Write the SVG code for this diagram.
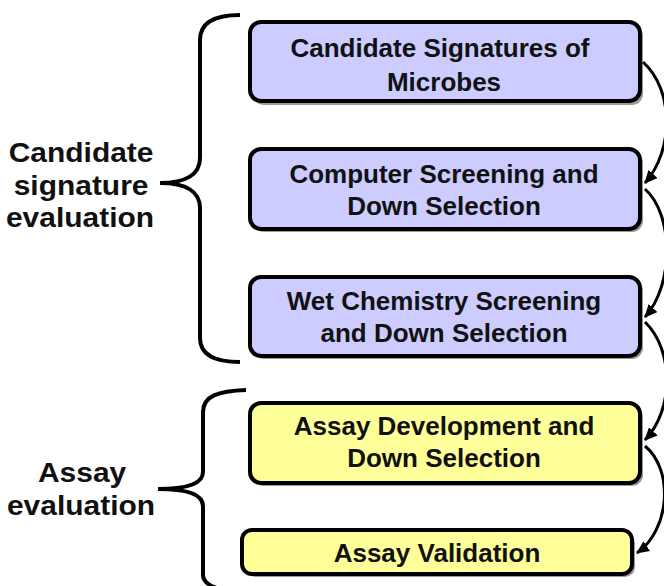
<svg xmlns="http://www.w3.org/2000/svg" width="664" height="586" viewBox="0 0 664 586">
  <defs>
    <marker id="arrow" markerWidth="14" markerHeight="12" refX="12" refY="6" orient="auto" markerUnits="userSpaceOnUse">
      <path d="M0,0 L13,6 L0,12 Z" fill="#000"/>
    </marker>
  </defs>
  <style>
    .shadow { fill: #9a9a9a; }
    .box { stroke: #000; stroke-width: 4; }
    .purple { fill: #ccccff; }
    .yellow { fill: #ffff99; }
    .label { font-family: "Liberation Sans", Arial, sans-serif; font-weight: bold; font-size: 26px; fill: #111; text-anchor: middle; }
    .side { font-family: "Liberation Sans", Arial, sans-serif; font-weight: bold; font-size: 28px; fill: #111; text-anchor: middle; }
    .brace { fill: none; stroke: #000; stroke-width: 4; stroke-linecap: butt; }
    .conn { fill: none; stroke: #000; stroke-width: 3; }
  </style>
  <rect width="664" height="586" fill="#fff"/>

  <!-- braces and group labels -->
  <g id="group-candidate">
    <path class="brace" d="M240,15 C215,15 200,22 200,40 L200,158 C200,175 185,183 160,183 C185,183 200,191 200,208 L200,338 C200,355 215,362 240,362"/>
    <g transform="translate(80,0) scale(1.07,1)">
      <text class="side" x="1" y="162">Candidate</text>
      <text class="side" x="1" y="195">signature</text>
      <text class="side" x="0" y="227">evaluation</text>
    </g>
  </g>
  <g id="group-assay">
    <path class="brace" d="M246,390 C218,391 203,396 203,412 L203,472 C203,483 188,489 158,489 C188,489 203,495 203,506 L203,575 C203,584 215,590 240,592"/>
    <g transform="translate(81,0) scale(1.07,1)">
      <text class="side" x="1" y="482">Assay</text>
      <text class="side" x="0" y="515">evaluation</text>
    </g>
  </g>

  <!-- process steps -->
  <g id="node-candidate-signatures">
    <rect class="shadow" x="253" y="25" width="390" height="80" rx="11"/>
    <rect class="box purple" x="250" y="22" width="390" height="79" rx="11"/>
    <text class="label" x="440" y="57">Candidate Signatures of</text>
    <text class="label" x="444" y="91">Microbes</text>
  </g>
  <g id="node-computer-screening">
    <rect class="shadow" x="253" y="152" width="390" height="80" rx="11"/>
    <rect class="box purple" x="250" y="149" width="390" height="80" rx="11"/>
    <text class="label" x="444" y="183">Computer Screening and</text>
    <text class="label" x="444" y="215">Down Selection</text>
  </g>
  <g id="node-wet-chemistry">
    <rect class="shadow" x="253" y="280" width="390" height="79" rx="11"/>
    <rect class="box purple" x="250" y="277" width="390" height="79" rx="11"/>
    <text class="label" x="444" y="310">Wet Chemistry Screening</text>
    <text class="label" x="444" y="342">and Down Selection</text>
  </g>
  <g id="node-assay-development">
    <rect class="shadow" x="253" y="406" width="390" height="80" rx="11"/>
    <rect class="box yellow" x="250" y="403" width="390" height="80" rx="11"/>
    <text class="label" x="444" y="435">Assay Development and</text>
    <text class="label" x="444" y="467">Down Selection</text>
  </g>
  <g id="node-assay-validation">
    <rect class="shadow" x="245" y="533" width="390" height="44" rx="10"/>
    <rect class="box yellow" x="242" y="530" width="390" height="44" rx="10"/>
    <text class="label" x="437" y="562">Assay Validation</text>
  </g>

  <!-- flow connectors -->
  <g id="connectors">
    <path class="conn" marker-end="url(#arrow)" d="M643,62 C674,90 674,150 645,183"/>
    <path class="conn" marker-end="url(#arrow)" d="M645,189 C674,215 674,285 645,317"/>
    <path class="conn" marker-end="url(#arrow)" d="M645,322 C674,350 674,410 645,440"/>
    <path class="conn" marker-end="url(#arrow)" d="M645,446 C674,470 670,530 637,553"/>
  </g>
</svg>
